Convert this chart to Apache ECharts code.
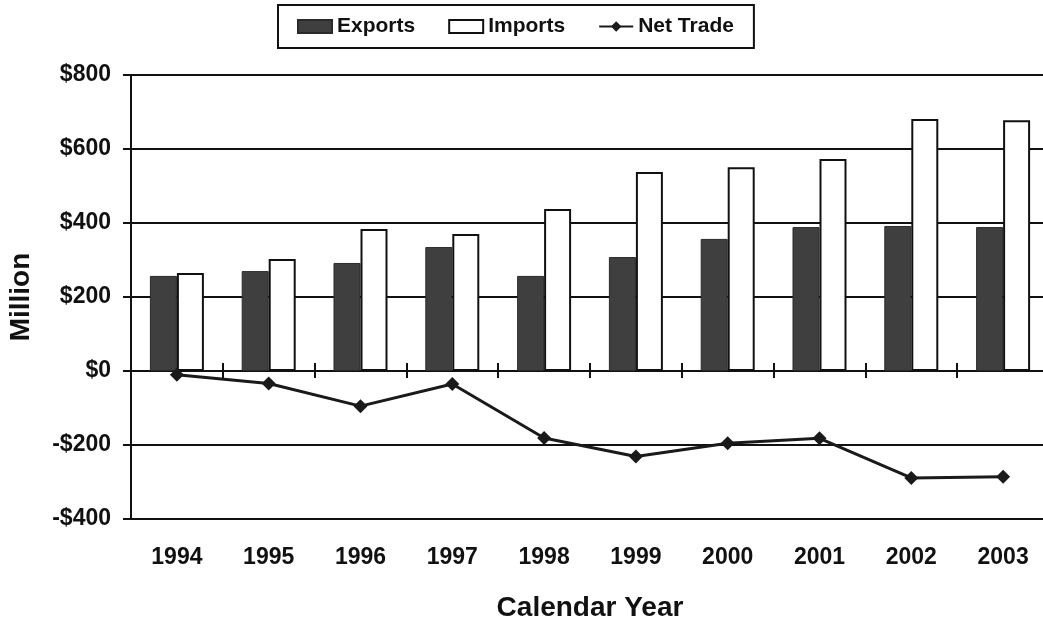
<!DOCTYPE html>
<html>
<head>
<meta charset="utf-8">
<script src="https://cdn.jsdelivr.net/npm/echarts@6/dist/echarts.min.js"></script>
<style>
html,body{margin:0;padding:0;background:#fff;}
#chart{width:1043px;height:619px;}
</style>
</head>
<body>
<div id="chart"></div>
<script>
const years = ['1994','1995','1996','1997','1998','1999','2000','2001','2002','2003'];
const exportsVals = [257, 270, 292, 335, 257, 308, 357, 389, 392, 389];
const importsVals = [265, 303, 384, 370, 438, 538, 551, 573, 681, 678];
const netTrade = [-10, -34, -95, -35, -181, -231, -195, -182, -289, -286];
const yTicks = {min: -400, max: 800, interval: 200};

const FONT = '"Liberation Sans", Arial, sans-serif';
const chart = echarts.init(document.getElementById('chart'));
const fmt = v => (v < 0 ? '-$' + Math.abs(v) : '$' + v);

const GRID_TOP = 75, GRID_H = 444;
// offset (px) that moves a bottom axis up to the value 0
const zeroOffset = -GRID_H * (0 - yTicks.min) / (yTicks.max - yTicks.min);

chart.setOption({
  animation: false,
  backgroundColor: '#ffffff',
  textStyle: {fontFamily: FONT},
  legend: {
    left: 278, top: 5,
    padding: [11, 20, 11, 19],
    borderColor: '#111', borderWidth: 2,
    itemWidth: 34, itemHeight: 13, itemGap: 33,
    textStyle: {fontFamily: FONT, fontWeight: 'bold', fontSize: 21, color: '#111'},
    data: [
      {name: 'Exports', icon: 'rect'},
      {name: 'Imports', icon: 'rect'},
      {name: 'Net Trade'}
    ]
  },
  grid: {left: 131, top: GRID_TOP, width: 918, height: GRID_H, containLabel: false, outerBoundsMode: 'none'},
  xAxis: [
    {
      type: 'category', data: years, position: 'bottom',
      axisLine: {show: false, onZero: false}, axisTick: {show: false},
      axisLabel: {fontFamily: FONT, fontWeight: 'bold', fontSize: 23, color: '#111', margin: 27},
      name: 'Calendar Year', nameLocation: 'middle', nameGap: 75,
      nameTextStyle: {fontFamily: FONT, fontWeight: 'bold', fontSize: 28, color: '#111'}
    },
    {
      type: 'category', data: years, position: 'bottom', offset: zeroOffset,
      axisLine: {show: true, onZero: false, lineStyle: {color: '#111', width: 2}},
      axisTick: {show: true, inside: true, length: 8, lineStyle: {color: '#111', width: 2}},
      axisLabel: {show: false}
    },
    {
      type: 'category', data: years, position: 'bottom', offset: zeroOffset,
      axisLine: {show: false, onZero: false},
      axisTick: {show: true, inside: false, length: 7, lineStyle: {color: '#111', width: 2}},
      axisLabel: {show: false}
    }
  ],
  yAxis: {
    type: 'value', min: yTicks.min, max: yTicks.max, interval: yTicks.interval,
    axisLine: {show: true, lineStyle: {color: '#111', width: 2}},
    axisTick: {show: true, inside: false, length: 8, lineStyle: {color: '#111', width: 2}},
    axisLabel: {formatter: fmt, fontFamily: FONT, fontWeight: 'bold', fontSize: 23, color: '#111', margin: 20},
    splitLine: {show: true, lineStyle: {color: '#111', width: 2}},
    name: 'Million', nameLocation: 'middle', nameGap: 96, nameRotate: 90,
    nameTextStyle: {fontFamily: FONT, fontWeight: 'bold', fontSize: 28, color: '#111'}
  },
  series: [
    {
      name: 'Exports', type: 'bar', data: exportsVals, xAxisIndex: 0,
      barWidth: 27, barGap: '0%',
      itemStyle: {color: '#3f3f3f', borderColor: '#2a2a2a', borderWidth: 1}
    },
    {
      name: 'Imports', type: 'bar', data: importsVals, xAxisIndex: 0,
      barWidth: 27, barGap: '0%',
      itemStyle: {color: '#ffffff', borderColor: '#111', borderWidth: 2}
    },
    {
      name: 'Net Trade', type: 'line', data: netTrade, xAxisIndex: 0, z: 5,
      symbol: 'diamond', symbolSize: 14,
      lineStyle: {color: '#1a1a1a', width: 3},
      itemStyle: {color: '#1a1a1a'}
    }
  ]
});
</script>
</body>
</html>
